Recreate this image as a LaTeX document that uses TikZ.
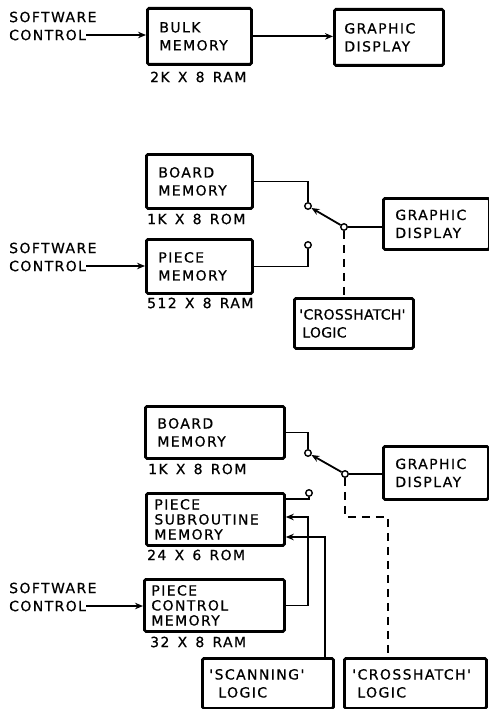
\documentclass[tikz,border=0pt]{standalone}
\usepackage{fontspec}
\usepackage{tikz}
\usetikzlibrary{arrows.meta, positioning, calc}
\newfontfamily\diafont{DejaVu Sans}[LetterSpace=10, WordSpace=1.4, FakeBold=0.6]

\begin{document}
\begin{tikzpicture}[
    x=1pt, y=-1pt,
    box/.style={draw,line width=2.8pt,rounded corners=1.5pt,anchor=north west,align=left,inner ysep=0pt,
      font=\diafont\fontsize{14}{18}\selectfont},
    tight/.style={font=\diafont\fontsize{14}{15}\selectfont},
    lbl/.style={anchor=west,inner sep=0pt,font=\diafont\fontsize{14}{18}\selectfont},
    cnt/.style={circle,draw,fill=white,line width=1.4pt,inner sep=0pt,minimum size=6.5pt},
    wire/.style={line width=1.8pt},
    arr/.style={wire,-{Stealth[length=8pt,width=6.5pt]}},
    dashwire/.style={wire,dash pattern=on 8pt off 6pt},
  ]
    \useasboundingbox (0,0) rectangle (489,709);

    % --- top: bulk memory only
    \node[box, text width=80pt, inner xsep=12pt, minimum height=56pt] (bulk) at (146,7) {BULK\\MEMORY};
    \node[box, text width=89pt, inner xsep=10pt, minimum height=56pt] (gd1) at (333,8) {GRAPHIC\\DISPLAY};
    \node[lbl] (bulkl) at (150,77) {2K X 8 RAM};
    \node[lbl] (sw1) at (9,17) {SOFTWARE};
    \node[lbl] (ctl1) at (9,35) {CONTROL};

    \draw[arr] (ctl1.east) -- (ctl1.east -| bulk.west);
    \draw[arr] (bulk.east) -- (bulk.east -| gd1.west);

    % --- middle: board + piece memory with switch
    \node[box, text width=82pt, inner xsep=12pt, minimum height=54pt] (board2) at (145,153) {BOARD\\MEMORY};
    \node[box, text width=82pt, inner xsep=12pt, minimum height=54pt] (piece2) at (145,238) {PIECE\\MEMORY};
    \node[box, text width=82pt, inner xsep=12pt, minimum height=51pt] (gd2) at (382,197) {GRAPHIC\\DISPLAY};
    \node[box, text width=109pt, inner xsep=5pt, minimum height=50pt] (cross2) at (293,297)
      {\addfontfeature{LetterSpace=2}'CROSSHATCH'\\\hspace*{3pt}LOGIC};
    \node[lbl] (board2l) at (147,219) {1K X 8 ROM};
    \node[lbl] (piece2l) at (147,303) {512 X 8 RAM};
    \node[lbl] (sw2) at (9,248) {SOFTWARE};
    \node[lbl] (ctl2) at (9,266) {CONTROL};

    \node[cnt] (up2) at (308,206) {};
    \node[cnt] (dn2) at (308,245) {};
    \node[cnt] (piv2) at (344,227) {};

    \draw[arr] (ctl2.east) -- (ctl2.east -| piece2.west);
    \draw[wire] (board2.east) -| (up2);
    \draw[wire] (piece2.east) -| (dn2);
    \draw[arr] (piv2) -- (up2);
    \draw[wire] (piv2) -- (piv2 -| gd2.west);
    \draw[dashwire] (piv2) -- (piv2 |- cross2.north);

    % --- bottom: piece subroutine + control memory
    \node[box, text width=115pt, inner xsep=12pt, minimum height=52pt] (board3) at (144,405) {BOARD\\MEMORY};
    \node[box, text width=81pt, inner xsep=12pt, minimum height=53pt] (gd3) at (382,445) {GRAPHIC\\DISPLAY};
    \node[box, tight, text width=122pt, inner xsep=8pt, minimum height=52pt] (sub3) at (145,492) {PIECE\\SUBROUTINE\\MEMORY};
    \node[box, tight, text width=126pt, inner xsep=7pt, minimum height=52pt] (ctrl3) at (143,578) {PIECE\\CONTROL\\MEMORY};
    \node[box, text width=117pt, inner xsep=7pt, minimum height=50pt] (scan3) at (201,657) {'SCANNING'\\\hspace*{9pt}LOGIC};
    \node[box, text width=126pt, inner xsep=8pt, minimum height=50pt] (cross3) at (343,657) {'CROSSHATCH'\\\hspace*{5pt}LOGIC};
    \node[lbl] (board3l) at (148,469) {1K X 8 ROM};
    \node[lbl] (sub3l) at (147,555) {24 X 6 ROM};
    \node[lbl] (ctrl3l) at (150,642) {32 X 8 RAM};
    \node[lbl] (sw3) at (9,588) {SOFTWARE};
    \node[lbl] (ctl3) at (9,606) {CONTROL};

    \node[cnt] (up3) at (308,453) {};
    \node[cnt] (top3) at (309,493) {};
    \node[cnt] (piv3) at (345,474) {};
    \coordinate (j1) at (308,517);
    \coordinate (j2) at (325,537);
    \coordinate (bend3) at (388,517);

    \draw[arr] (ctl3.east) -- (ctl3.east -| ctrl3.west);
    \draw[wire] (board3.east) -| (up3);
    \draw[wire] ([yshift=-7pt]sub3.north east) -| (top3);
    \draw[arr] (piv3) -- (up3);
    \draw[wire] (piv3) -- (piv3 -| gd3.west);
    \draw[arr] (ctrl3.east) -| (j1) -- (j1 -| sub3.east);
    \draw[arr] (j2 |- scan3.north) -- (j2) -- (j2 -| sub3.east);
    \draw[dashwire] (piv3) |- (bend3) -- (bend3 |- cross3.north);
  \end{tikzpicture}
\end{document}
